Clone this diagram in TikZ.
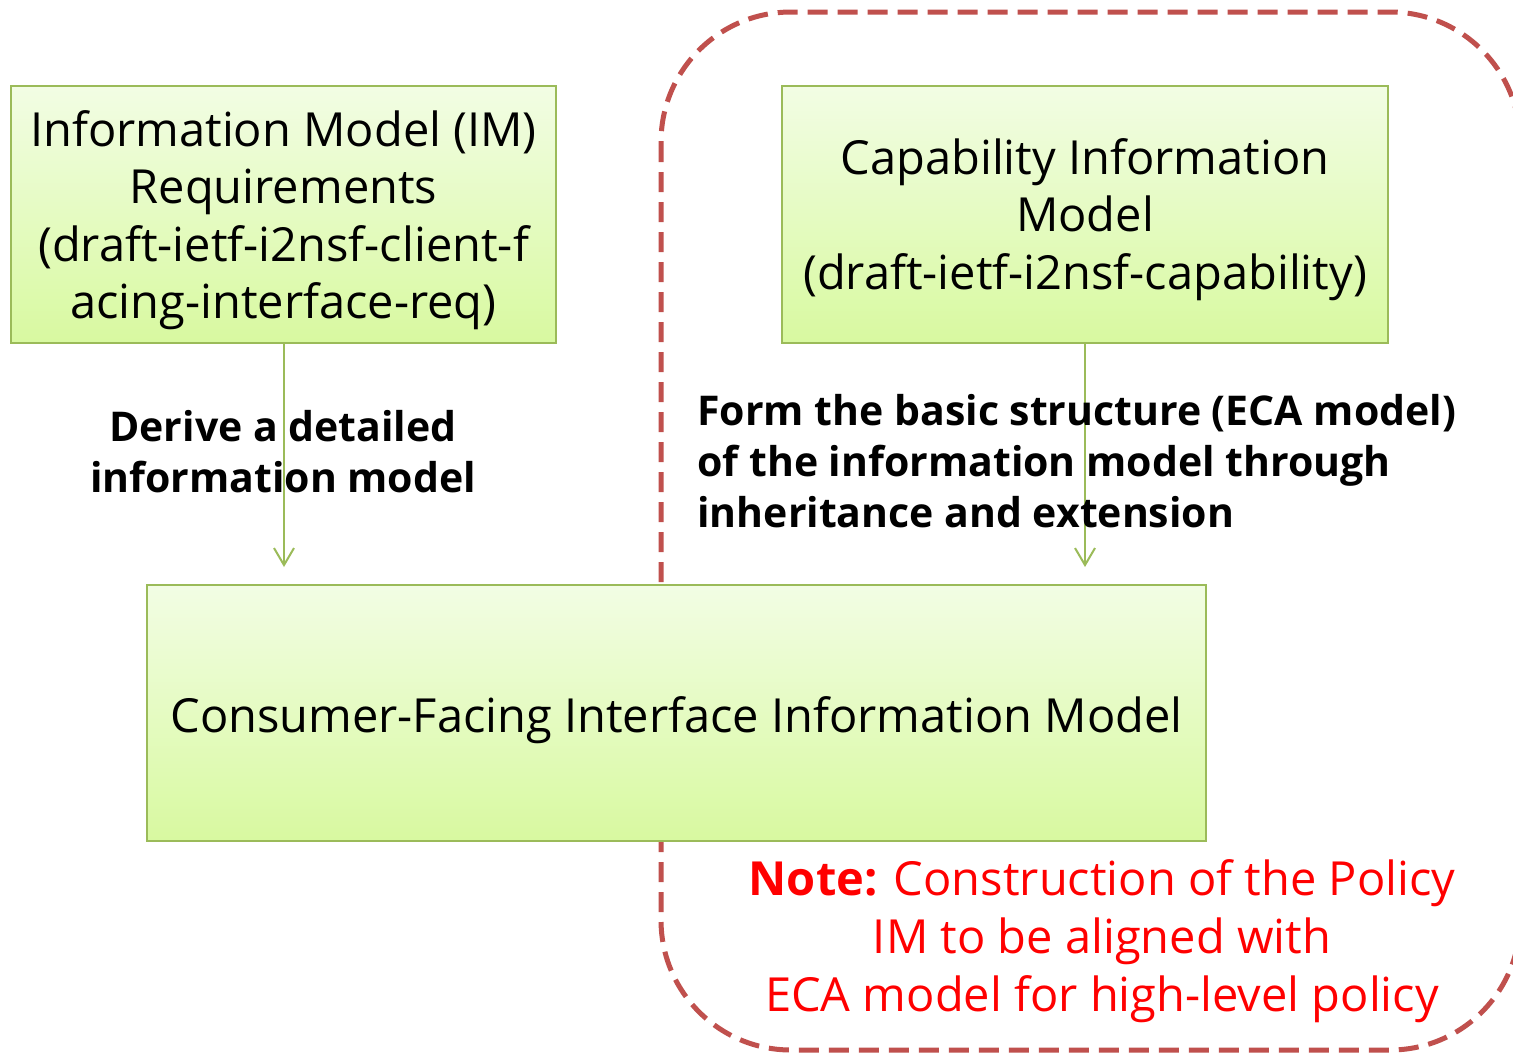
\documentclass[tikz,border=0pt]{standalone}
\usepackage{fontspec}
\setmainfont{Open Sans}
\usetikzlibrary{arrows.meta}
\definecolor{boxborder}{HTML}{9BBB59}
\definecolor{boxtop}{HTML}{F2FDE4}
\definecolor{boxbot}{HTML}{D8F9A0}
\definecolor{dashred}{HTML}{C0504D}
\definecolor{notered}{HTML}{FF0000}
\newcommand\bxfont{\fontsize{23.5pt}{28.75pt}\selectfont}
\newcommand\lblfont{\fontsize{20.5pt}{25.5pt}\selectfont\bfseries}
\newcommand\notefont{\fontsize{23.5pt}{29pt}\selectfont}
\begin{document}
\begin{tikzpicture}[x=0.5pt, y=-0.5pt,
  greenbox/.style={draw=boxborder, line width=1pt, top color=boxtop, bottom color=boxbot, inner sep=0pt},
  boxtext/.style={align=center, inner sep=0pt, font=\bxfont},
  flowarrow/.style={draw=boxborder, line width=1pt, -{Straight Barb[length=8.5pt,width=10pt]}, shorten >=8.5pt},
  lbl/.style={inner sep=0pt, font=\lblfont},
  notelbl/.style={inner sep=0pt, font=\notefont, text=notered, align=center}
]
\useasboundingbox (0,0) rectangle (1513,1055);
\fill[white] (0,0) rectangle (1513,1055);
% dashed group
\draw[dashred, line width=2.5pt, dash pattern=on 10pt off 5pt, rounded corners=65pt]
  (661,12) rectangle (1520,1050);
% boxes
\node[greenbox, minimum width=272.5pt, minimum height=128.5pt] (im) at (283.5,214.5) {};
\node[boxtext] (imtext) at ([yshift=-2.75pt]im.center)
  {Information Model (IM)\\Requirements\\(draft-ietf-i2nsf-client-f\\acing-interface-req)};
\node[greenbox, minimum width=303pt, minimum height=128.5pt] (cap) at (1085,214.5) {};
\node[boxtext] (captext) at ([yshift=-2.5pt]cap.center)
  {Capability Information\\Model\\(draft-ietf-i2nsf-capability)};
\node[greenbox, minimum width=529.5pt, minimum height=128pt] (cfi) at (676.5,713) {};
\node[boxtext] (cfitext) at ([yshift=-3.5pt]cfi.center)
  {Consumer-Facing Interface Information Model};
% arrows
\draw[flowarrow] (im.south -| 284,0) -- (284,0 |- cfi.north);
\draw[flowarrow] (cap.south) -- (cap.south |- cfi.north);
% labels
\node[lbl, align=center] (derive) at (283,452) {Derive a detailed\\information model};
\node[lbl, align=left, anchor=west] (form) at (697,461)
  {Form the basic structure (ECA model)\\of the information model through\\inheritance and extension};
\node[notelbl] (note) at (1102,941)
  {\textbf{Note:} Construction of the Policy\\IM to be aligned with\\ECA model for high-level policy};
\end{tikzpicture}
\end{document}
